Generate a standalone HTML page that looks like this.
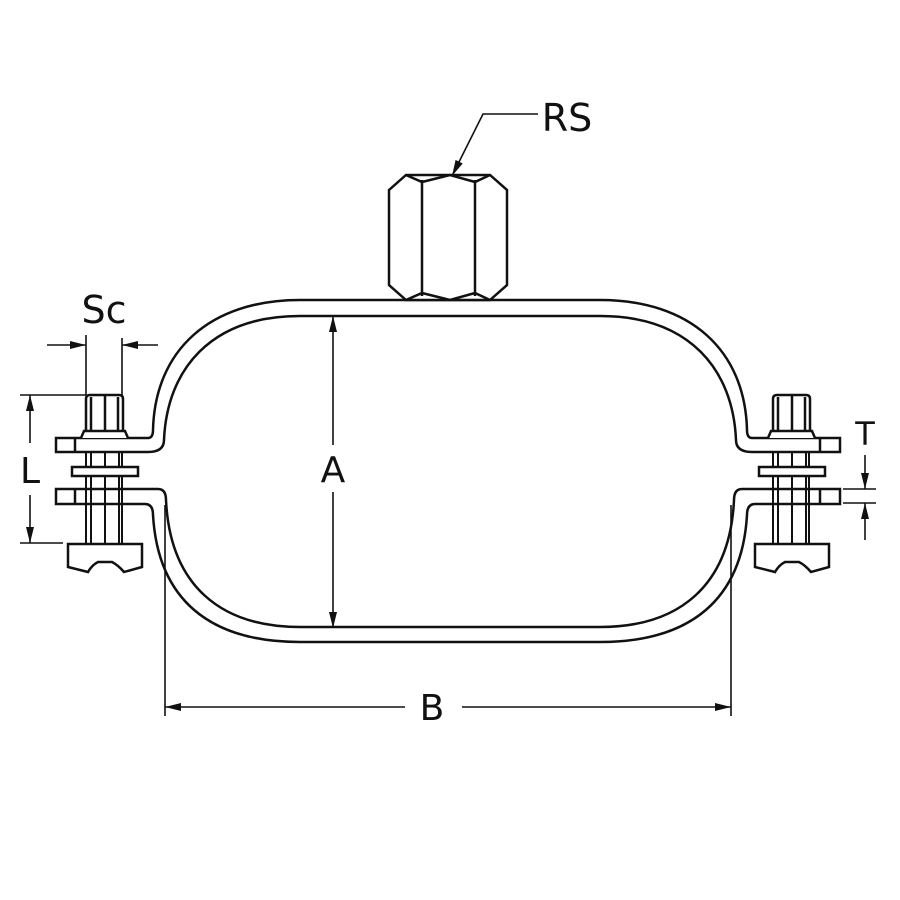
<!DOCTYPE html>
<html><head><style>body{margin:0;background:#fff}svg{display:block}text{font-family:"DejaVu Sans","Liberation Sans",sans-serif;fill:#111}</style></head>
<body>
<svg width="900" height="900" viewBox="0 0 900 900" xmlns="http://www.w3.org/2000/svg">
<defs>
<marker id="ar" viewBox="0 0 16 8" refX="16" refY="4" markerWidth="16" markerHeight="8" markerUnits="userSpaceOnUse" orient="auto"><path d="M0,0 L16,4 L0,8 z" fill="#111"/></marker>
<g id="bolt">
  <path d="M-18,452 V544 M-13,452 V544 M1,452 V544 M15,452 V544 M18,452 V544" stroke="#111" stroke-width="2" fill="none"/>
  <path d="M-18,432 V399 Q-18,395 -14,395 H15 Q19,395 19,399 V432 M-13,397 V432 M1,396 V432 M14,397 V432" stroke="#111" stroke-width="2.5" fill="#fff"/>
  <path d="M-23,438 L-20,431 H21 L24,438" stroke="#111" stroke-width="2.5" fill="#fff"/>
  <rect x="-32" y="467" width="66" height="9" stroke="#111" stroke-width="2.5" fill="#fff"/>
  <path d="M-36,544 H38 V567 L20,572 Q14,565 8,562 H-6 Q-12,565 -16,572 L-36,567 Z" stroke="#111" stroke-width="2.5" fill="#fff"/>
</g>
</defs>
<g fill="none" stroke="#111" stroke-width="2.5">
  <path d="M56,438 H148 Q153,438 153,430 C155,350 210,300 300,300 H600 C690,300 745,350 747,430 Q747,438 752,438 H840 V452 H752 Q736,452 736,440 C733,370 690,316 600,316 H300 C210,316 167,370 164,440 Q164,452 148,452 H56 Z"/>
  <path d="M75,438 V452 M820,438 V452"/>
  <path d="M56,489 H158 Q166,489 166,500 C170,585 220,627 300,627 H600 C680,627 730,585 734,500 Q734,489 742,489 H840 V504 H755 Q747,504 747,515 C742,600 690,642 600,642 H300 C210,642 158,600 153,515 Q153,504 145,504 H56 Z"/>
  <path d="M75,489 V504 M820,489 V504"/>
  <path d="M389,190 L406,175 H490 L507,190 V285 L490,300 H406 L389,285 Z" fill="#fff"/>
  <path d="M422,180 V296 M475,180 V296 M406,175 L422,182 L450,175 L475,182 L490,175 M406,300 L422,293 L450,300 L475,293 L490,300"/>
</g>
<use href="#bolt" transform="translate(104,0)"/>
<use href="#bolt" transform="translate(791,0)"/>
<g stroke="#111" stroke-width="1.6" fill="none">
  <path d="M86,335 V395 M122,338 V395"/>
  <path d="M47,345 H86" marker-end="url(#ar)"/>
  <path d="M158,345 H122" marker-end="url(#ar)"/>
  <path d="M20,395 H86 M20,543 H63"/>
  <path d="M30,443 V395" marker-end="url(#ar)"/>
  <path d="M30,495 V543" marker-end="url(#ar)"/>
  <path d="M843,489 H876 M843,503 H876"/>
  <path d="M865,455 V489" marker-end="url(#ar)"/>
  <path d="M865,540 V503" marker-end="url(#ar)"/>
  <path d="M333,445 V316" marker-end="url(#ar)"/>
  <path d="M333,492 V628" marker-end="url(#ar)"/>
  <path d="M165,505 V716 M731,505 V716"/>
  <path d="M405,707 H165" marker-end="url(#ar)"/>
  <path d="M462,707 H731" marker-end="url(#ar)"/>
  <path d="M538,114 H483 L452,176" marker-end="url(#ar)"/>
</g>
<text x="104" y="323" font-size="38" text-anchor="middle">Sc</text>
<text x="30" y="483" font-size="36" text-anchor="middle">L</text>
<text x="865" y="445" font-size="32" text-anchor="middle">T</text>
<text x="333" y="482" font-size="36" text-anchor="middle">A</text>
<text x="432" y="720" font-size="36" text-anchor="middle">B</text>
<text x="567" y="131" font-size="38" text-anchor="middle">RS</text>
</svg>
</body></html>
